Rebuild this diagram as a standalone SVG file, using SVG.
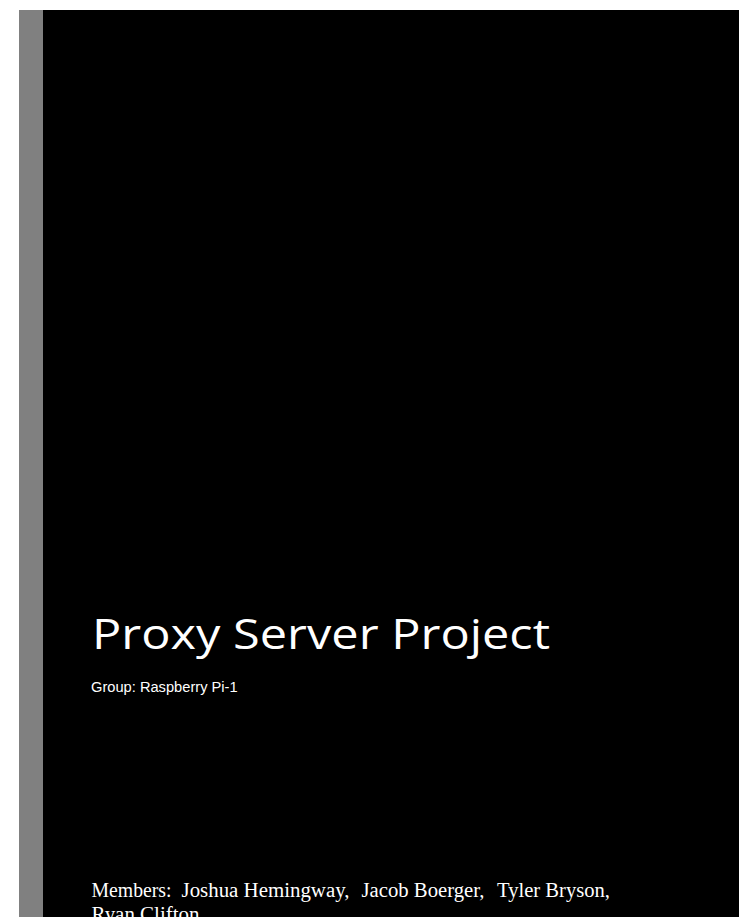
<svg xmlns="http://www.w3.org/2000/svg" width="741" height="917" viewBox="0 0 741 917">
<style>
.title{font-family:"Open Sans","Noto Sans",sans-serif;font-size:42px;fill:#ffffff}
.sub{font-family:"Liberation Sans",Arial,sans-serif;font-size:14.67px;fill:#ffffff}
.mem{font-family:"Liberation Serif","Times New Roman",serif;font-size:20.5px;fill:#ffffff}
</style>
<rect x="0" y="0" width="741" height="917" fill="#ffffff"/>
<g id="sidebar"><rect x="19" y="10" width="24" height="907" fill="#808080"/></g>
<g id="cover"><rect x="43" y="10" width="696" height="907" fill="#000000"/></g>
<g id="title"><text class="title" x="92" y="648.5" textLength="458" lengthAdjust="spacingAndGlyphs">Proxy Server Project</text></g>
<g id="subtitle"><text class="sub" x="91" y="691.5">Group: Raspberry Pi-1</text></g>
<g id="members">
<text class="mem" x="91.5" y="896.5" textLength="80" lengthAdjust="spacingAndGlyphs">Members:</text>
<text class="mem" x="181.5" y="896.5" textLength="168" lengthAdjust="spacingAndGlyphs">Joshua Hemingway,</text>
<text class="mem" x="361.5" y="896.5" textLength="123" lengthAdjust="spacingAndGlyphs">Jacob Boerger,</text>
<text class="mem" x="497" y="896.5" textLength="113" lengthAdjust="spacingAndGlyphs">Tyler Bryson,</text>
<text class="mem" x="91.5" y="920.5" textLength="108" lengthAdjust="spacingAndGlyphs">Ryan Clifton</text>
</g>
<g id="connectors"></g>
</svg>
